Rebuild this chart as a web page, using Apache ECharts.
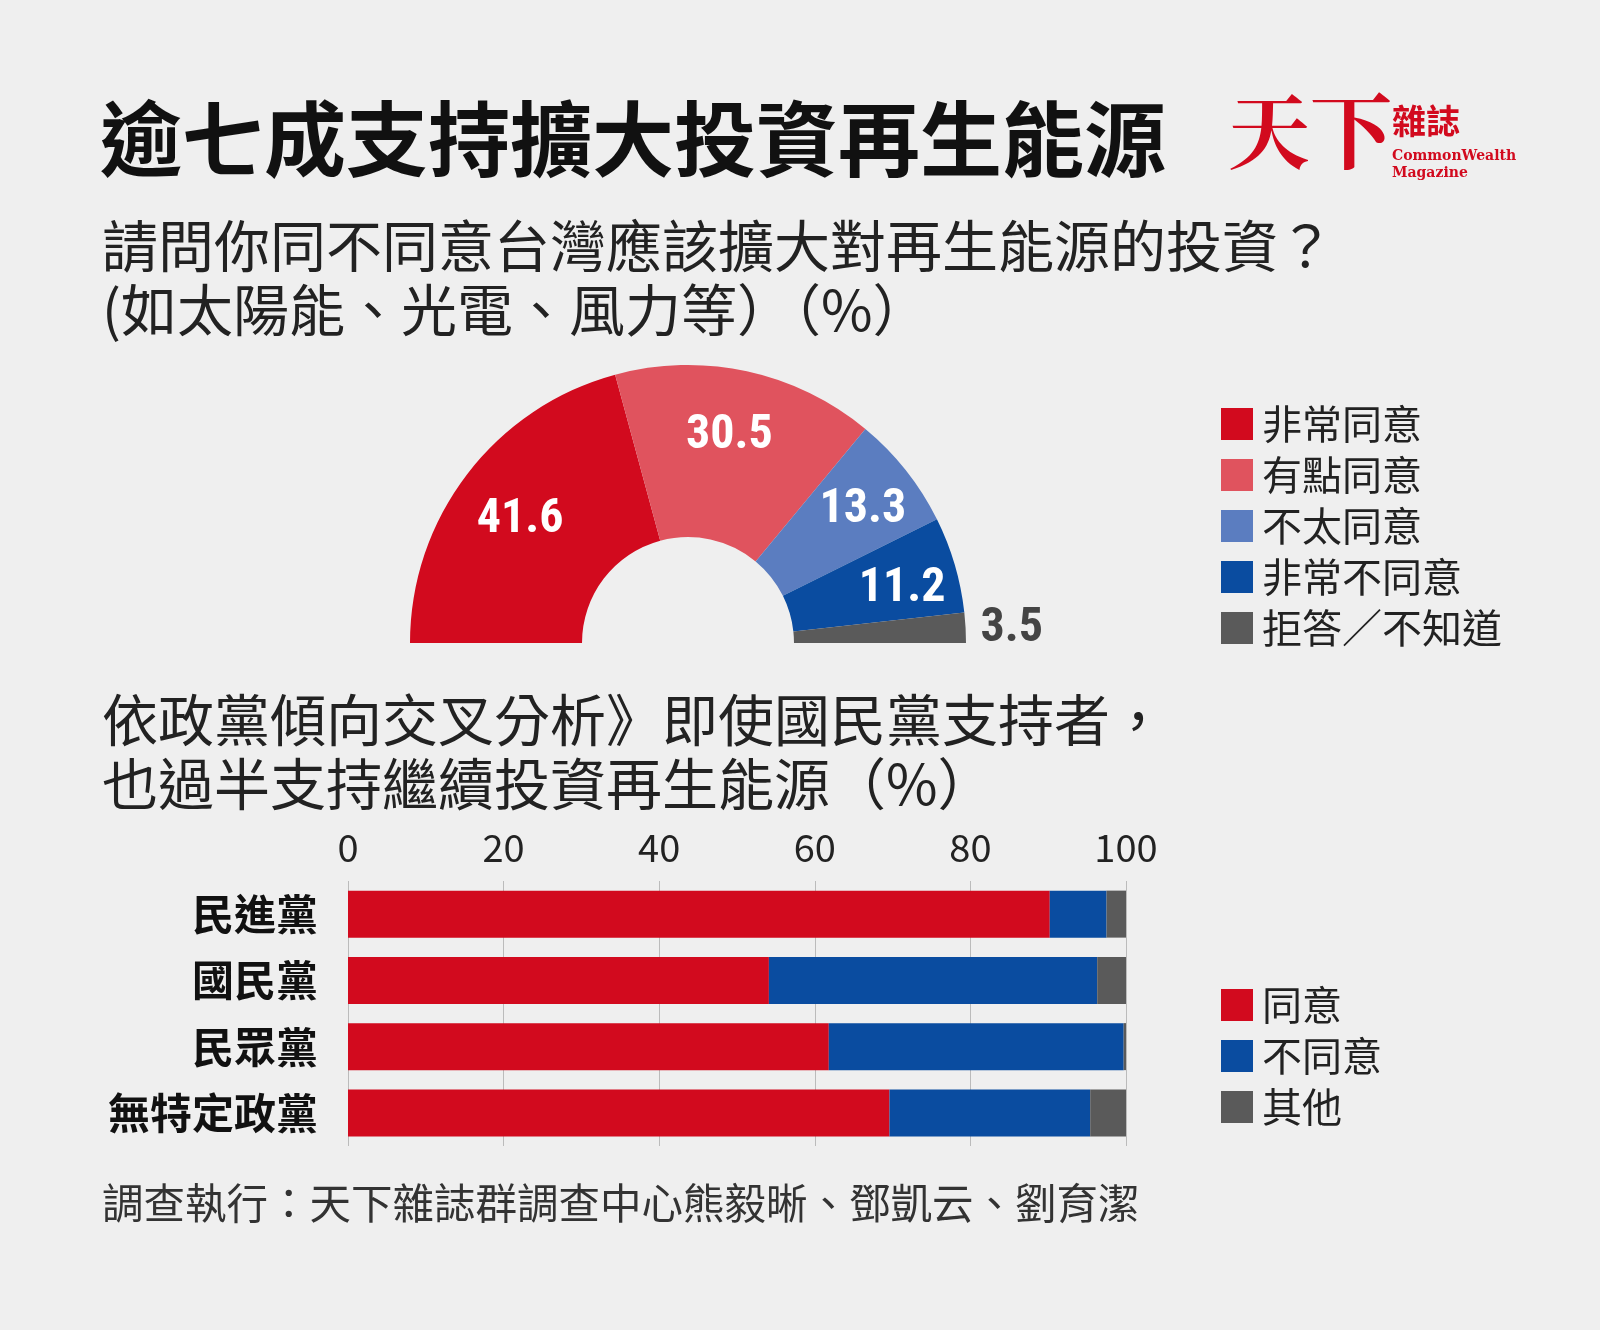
<!DOCTYPE html>
<html><head><meta charset="utf-8">
<script src="https://cdn.jsdelivr.net/npm/echarts@6/dist/echarts.min.js"></script>
<style>html,body{margin:0;background:#efefef}#c{width:1600px;height:1330px}</style>
</head><body><div id="c"></div>
<script>
const pieNames=['非常同意','有點同意','不太同意','非常不同意','拒答／不知道'];
const pieValues=[41.6,30.5,13.3,11.2,3.5];
const pieColors=['#d20a1e','#e0535e','#5b7dc0','#0a4ca0','#5a5a5a'];
const parties=['民進黨','國民黨','民眾黨','無特定政黨'];
const agree=[90.2,54.1,61.8,69.6];
const disagree=[7.3,42.2,37.9,25.8];
const other=[2.5,3.7,0.3,4.6];
const xTicks=[0,20,40,60,80,100];
const F='"Noto Sans CJK TC","Noto Sans",sans-serif';
const total=pieValues.reduce((a,b)=>a+b,0);
const labelPos=[{offset:[-13,-5]},{offset:[0,-16]},{offset:[22,-12]},{offset:[27,1]},{position:'outside',color:'#444',offset:[-35,2]}];
const pieData=pieValues.map((v,i)=>({name:pieNames[i],value:v,itemStyle:{color:pieColors[i]},
 label:Object.assign({show:true,position:'inside',color:'#fff',fontSize:48,fontWeight:'bold',fontFamily:'"Roboto Condensed","Liberation Sans Narrow",'+F,formatter:'{c}'},labelPos[i]),labelLine:{show:false}}));
pieData.push({name:'_',value:total,itemStyle:{color:'transparent'},label:{show:false},emphasis:{disabled:true},tooltip:{show:false}});
const chart=echarts.init(document.getElementById('c'));
chart.setOption({
 backgroundColor:'#efefef',
 animation:false,
 graphic:[
  {type:'text',left:100,top:98,style:{text:'逾七成支持擴大投資再生能源',font:'bold 82px '+F,fill:'#111'}},
  {type:'text',left:102,top:214,style:{text:'請問你同不同意台灣應該擴大對再生能源的投資？\n(如太陽能、光電、風力等）（%）',font:'56px '+F,fill:'#222',lineHeight:64}},
  {type:'text',left:1228,top:90,style:{text:'天下',font:'bold 82px "Noto Serif CJK TC","Noto Sans CJK TC",serif',fill:'#d20a1e'}},
  {type:'text',left:1392,top:104,style:{text:'雜誌',font:'bold 34px '+F,fill:'#d20a1e'}},
  {type:'text',left:1392,top:148,style:{text:'CommonWealth\nMagazine',font:'bold 14px "DejaVu Serif",serif',fill:'#d20a1e',lineHeight:17}},
  {type:'text',left:102,top:688,style:{text:'依政黨傾向交叉分析》即使國民黨支持者，\n也過半支持繼續投資再生能源（%）',font:'56px '+F,fill:'#222',lineHeight:64}},
  {type:'text',left:102,top:1182,style:{text:'調查執行：天下雜誌群調查中心熊毅晰、鄧凱云、劉育潔',font:'41.5px '+F,fill:'#333'}}
 ],
 legend:[
  {data:pieNames,orient:'vertical',left:1216,top:399,icon:'rect',itemWidth:32,itemHeight:32,itemGap:11,
   textStyle:{fontSize:40,fontFamily:F,color:'#222',lineHeight:32,padding:[4,0,0,4]}},
  {data:['同意','不同意','其他'],orient:'vertical',left:1216,top:980,icon:'rect',itemWidth:32,itemHeight:32,itemGap:11,
   textStyle:{fontSize:40,fontFamily:F,color:'#222',lineHeight:32,padding:[4,0,0,4]}}
 ],
 grid:{left:348,right:474,top:881,bottom:184},
 xAxis:{type:'value',position:'top',min:0,max:100,interval:20,
  axisLabel:{fontSize:38,fontFamily:F,color:'#222',margin:14,formatter:v=>xTicks.includes(v)?String(v):''},
  splitLine:{show:true,lineStyle:{color:'#bbb',width:1}},axisLine:{show:false},axisTick:{show:false}},
 yAxis:{type:'category',data:parties,inverse:true,axisLine:{show:false},axisTick:{show:false},
  axisLabel:{fontSize:42,fontWeight:'bold',fontFamily:F,color:'#111',margin:30}},
 series:[
  {type:'pie',radius:[106,278],center:[688,643],startAngle:180,clockwise:true,data:pieData,silent:true,
   itemStyle:{borderWidth:0}},
  {name:'同意',type:'bar',stack:'s',data:agree,barWidth:47,itemStyle:{color:'#d20a1e'}},
  {name:'不同意',type:'bar',stack:'s',data:disagree,barWidth:47,itemStyle:{color:'#0a4ca0'}},
  {name:'其他',type:'bar',stack:'s',data:other,barWidth:47,itemStyle:{color:'#5a5a5a'}}
 ]
});
</script></body></html>
